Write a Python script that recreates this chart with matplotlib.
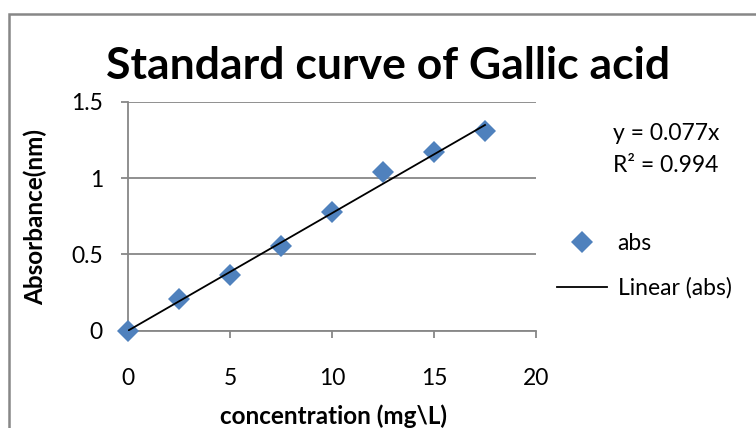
import matplotlib
matplotlib.use("Agg")
import matplotlib.pyplot as plt
from matplotlib.lines import Line2D
from matplotlib.patches import Rectangle

plt.rcParams['font.family'] = ['Lato', 'DejaVu Sans']

# --- datos ---
concentracion = [0, 2.5, 5, 7.5, 10, 12.5, 15, 17.5]
absorbancia = [0.0, 0.205, 0.365, 0.555, 0.778, 1.038, 1.17, 1.305]
pendiente = 0.077
r2 = 0.994
x_ticks = [0, 5, 10, 15, 20]
y_ticks = [0, 0.5, 1, 1.5]
y_tick_labels = ["0", "0.5", "1", "1.5"]

azul = "#4F81BD"
gris = "#878787"

fig = plt.figure(figsize=(7.56, 4.28), dpi=100)

# marco do gráfico (estilo Excel)
fig.patches.append(Rectangle((9 / 756, -0.1), 2, 1.1 - 14 / 428, transform=fig.transFigure,
                             fill=False, edgecolor=gris, linewidth=1.8))

ax = fig.add_axes([128 / 756, 1 - 330.7 / 428, 408 / 756, 229 / 428])

# puntos e liña de tendencia
ax.plot(concentracion, absorbancia, linestyle='None', marker='D', markersize=11.5,
        color=azul, markeredgewidth=0, zorder=3, clip_on=False)
x_lin = [concentracion[0], concentracion[-1]]
ax.plot(x_lin, [pendiente * v for v in x_lin], color='black', linewidth=1.3, zorder=4)

ax.set_xlim(0, 20)
ax.set_ylim(0, 1.5)
ax.set_xticks(x_ticks)
ax.set_xticklabels([str(v) for v in x_ticks])
ax.set_yticks(y_ticks)
ax.set_yticklabels(y_tick_labels)

for s in ['top', 'right']:
    ax.spines[s].set_visible(False)
for s in ['left', 'bottom']:
    ax.spines[s].set_color(gris)
    ax.spines[s].set_linewidth(1.3)

ax.yaxis.grid(True, color=gris, linewidth=1.3)
ax.set_axisbelow(True)
ax.tick_params(axis='both', direction='out', length=5, width=1.3, color=gris,
               labelsize=16.5)
ax.tick_params(axis='y', pad=13)
ax.tick_params(axis='x', pad=22)

# título e etiquetas
fig.text(388 / 756, 1 - 66 / 428, "Standard curve of Gallic acid", fontsize=32,
         fontweight='bold', ha='center', va='center')
fig.text(333 / 756, 1 - 416 / 428, "concentration (mg\\L)", fontsize=17.5,
         fontweight='bold', ha='center', va='center')
fig.text(35 / 756, 1 - 217 / 428, "Absorbance(nm)", fontsize=17.5, fontweight='bold',
         ha='center', va='center', rotation=90)

# ecuación
fig.text(613 / 756, 1 - 133 / 428, f"y = {pendiente}x", fontsize=16.5, va='center')
fig.text(613 / 756, 1 - 165 / 428, f"R² = {r2}", fontsize=16.5, va='center')

# lenda
h_abs = Line2D([], [], linestyle='None', marker='D', markersize=11.5, color=azul,
               markeredgewidth=0)
h_lin = Line2D([], [], color='black', linewidth=1.3)
fig.legend([h_abs, h_lin], ["abs", "Linear (abs)"], loc='center left',
           bbox_to_anchor=(557 / 756, 1 - 266 / 428), frameon=False, fontsize=16.5,
           borderpad=0, borderaxespad=0, handlelength=2.2, handletextpad=0.45,
           labelspacing=1.0)

fig.savefig("out.png", dpi=100)
